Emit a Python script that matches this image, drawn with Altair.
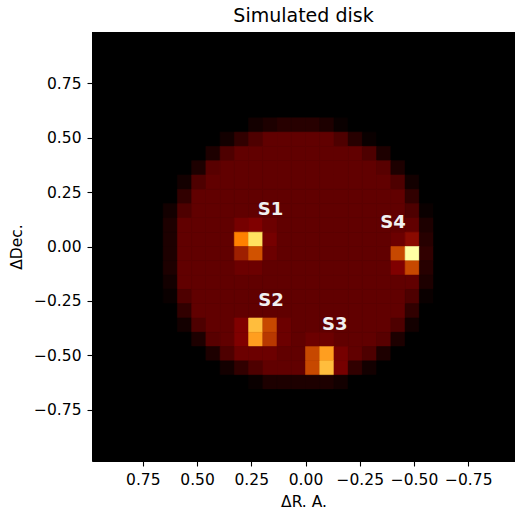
import altair as alt
import pandas as pd

# ---- image: 30 x 30 pixels, rows top -> bottom, columns left -> right
# '.' = black, '1'..'9' = partial disk edge (tenths of full disk), 'D' = full disk,
# letters = brighter source pixels
rows = [
    "..............................",
    "..............................",
    "..............................",
    "..............................",
    "..............................",
    "..............................",
    "...........2344431............",
    ".........258DDDDD841..........",
    "........38DDDDDDDDD83.........",
    ".......39DDDDDDDDDDD93........",
    "......28DDDDDDDDDDDDD82.......",
    "......5DDDDDDDDDDDDDDD5.......",
    ".....28DDDDDDDDDDDDDDD81......",
    ".....3DDDDbcaDDDDDDDDDD3......",
    ".....3DDDDilbDDDDDDDDad4......",
    ".....3DDDDehaDDDDDDDDgm5......",
    ".....3DDDDaaDDDDDDDDDcg4......",
    ".....2DDDDDDDDDDDDDDDDD3......",
    ".....18DDDDDDDDDDDDDDD81......",
    "......5DDDDDDDDDDDDDDD5.......",
    "......28DDckgaDDDDDDD82.......",
    ".......39DcjfaDaaDDD93........",
    "........38aaaDDgjbD83.........",
    ".........258DDDgkb52..........",
    "...........1333332............",
    "..............................",
    "..............................",
    "..............................",
    "..............................",
    "..............................",
]

codes = ['.', '1', '2', '3', '4', '5', '6', '7', '8', '9', 'D',
         'a', 'b', 'c', 'd', 'e', 'f', 'g', 'h', 'i', 'j', 'k', 'l', 'm']
code_values = [0.0, 0.019, 0.038, 0.057, 0.076, 0.095, 0.114, 0.133, 0.152, 0.171, 0.19,
               0.21, 0.23, 0.25, 0.27, 0.31, 0.36, 0.39, 0.41, 0.50, 0.56, 0.62, 0.69, 0.82]
levels = dict(zip(codes, code_values))

image_extent = 0.984          # image spans -0.984 .. 0.984 in both directions
n_pix = 30
pix = 2 * image_extent / n_pix

recs = []
for r, row in enumerate(rows):
    for c, ch in enumerate(row):
        recs.append({
            "xa": image_extent - c * pix, "xb": image_extent - (c + 1) * pix,
            "ya": image_extent - r * pix, "yb": image_extent - (r + 1) * pix,
            "v": levels[ch],
        })
df = pd.DataFrame(recs)

label_names = ["S1", "S2", "S3", "S4"]
label_x = [0.161, 0.159, -0.1345, -0.403]
label_y = [0.1675, -0.248, -0.362, 0.110]
ldf = pd.DataFrame({"name": label_names, "lx": label_x, "ly": label_y})

tick_vals = [0.75, 0.5, 0.25, 0.0, -0.25, -0.5, -0.75]

# afmhot colormap
cmap = alt.Scale(domain=[0, 0.25, 0.5, 0.75, 1.0],
                 range=["#000000", "#800000", "#ff8000", "#ffff80", "#ffffff"],
                 interpolate="rgb")

xs = alt.Scale(domain=[-0.9655, 0.984], reverse=True, nice=False, zero=False)
ys = alt.Scale(domain=[-0.984, 0.984], nice=False, zero=False)

common_axis = dict(values=tick_vals, format=".2f", grid=False, domain=False,
                   labelFont="DejaVu Sans", labelFontSize=15.5, labelColor="black",
                   tickColor="black", tickSize=5, tickWidth=1.1, labelPadding=6,
                   labelFlush=False, labelOverlap=False,
                   titleFont="DejaVu Sans", titleFontSize=15.5, titleColor="black",
                   titleFontWeight="normal", titleBaseline="alphabetic", titleAlign="center")

x_axis = alt.Axis(title="ΔR. A.", titleX=211.5, titleY=45.7, **common_axis)
y_axis = alt.Axis(title="ΔDec.", titleX=-70.3, titleY=214.5, titleAngle=270, **common_axis)

img = alt.Chart(df).mark_rect(clip=True, strokeWidth=0.6).encode(
    x=alt.X("xa:Q", scale=xs, axis=x_axis),
    x2="xb:Q",
    y=alt.Y("ya:Q", scale=ys, axis=y_axis),
    y2="yb:Q",
    color=alt.Color("v:Q", scale=cmap, legend=None),
    stroke=alt.Stroke("v:Q", scale=cmap, legend=None),
)

labels = alt.Chart(ldf).mark_text(font="DejaVu Sans", fontWeight="bold", fontSize=18,
                                  color="#f0f0f0", align="center", baseline="middle").encode(
    x=alt.X("lx:Q", scale=xs, axis=x_axis),
    y=alt.Y("ly:Q", scale=ys, axis=y_axis),
    text="name:N",
)

chart = alt.layer(img, labels).properties(
    width=423, height=429,
    title=alt.TitleParams("Simulated disk", font="DejaVu Sans", fontSize=19, fontWeight="normal",
                          color="black", anchor="middle", frame="group", offset=9,
                          baseline="alphabetic", dy=18),
    padding={"left": 92, "top": 32, "right": 0, "bottom": 50},
    autosize=alt.AutoSizeParams(type="none"),
    background="white",
).configure_view(fill="black", stroke="black", strokeWidth=1)

chart.save("out.html", embed_options={"renderer": "svg", "actions": False})
